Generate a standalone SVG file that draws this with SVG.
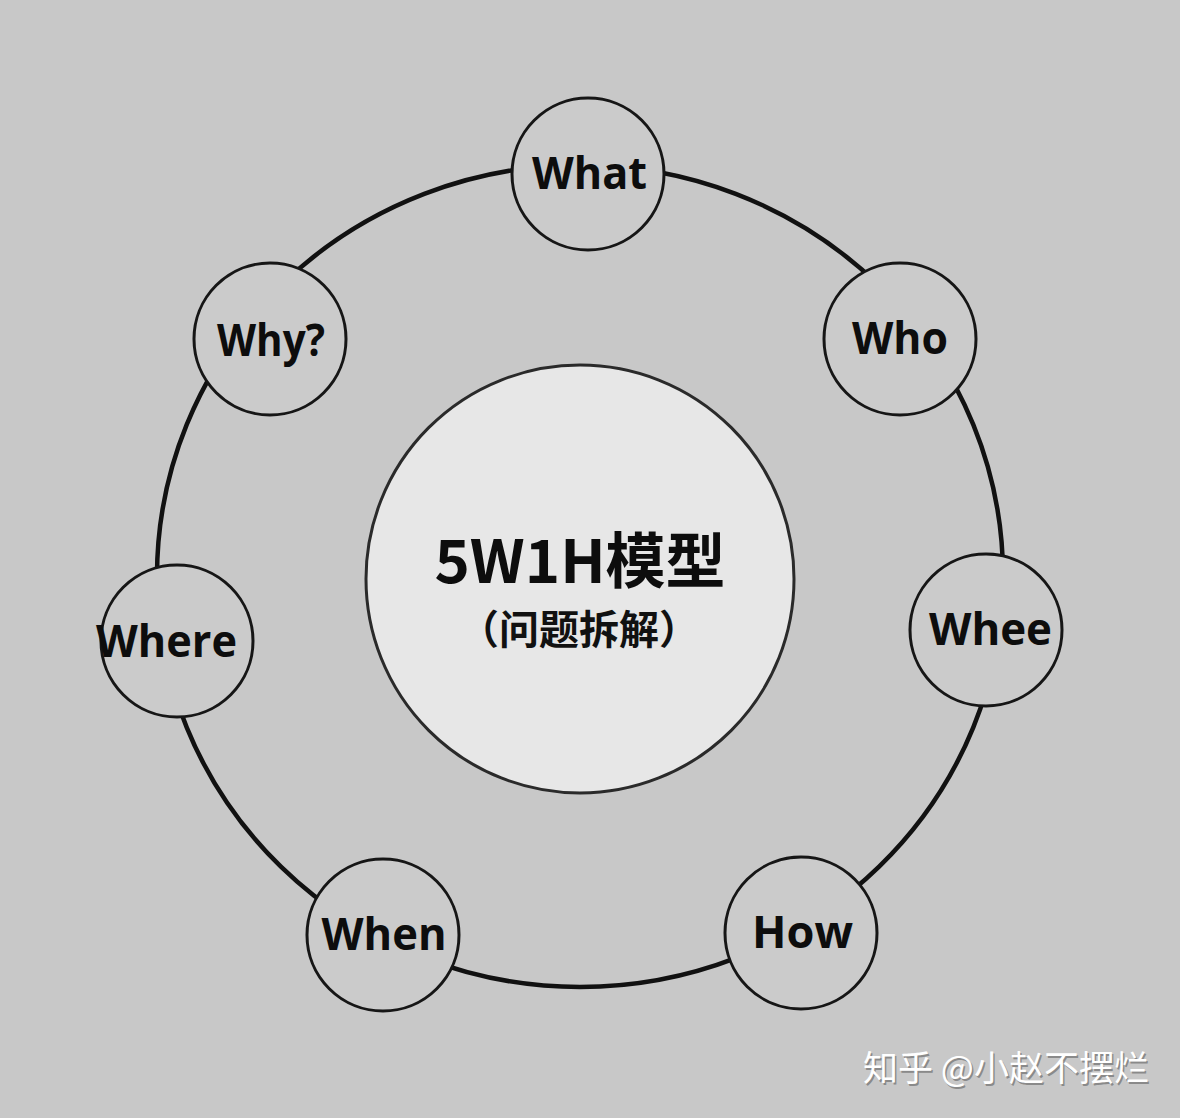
<svg xmlns="http://www.w3.org/2000/svg" width="1180" height="1118" viewBox="0 0 1180 1118">
  <style>
    .node { fill: #cbcbcb; stroke: #161616; stroke-width: 3; }
    .lbl { font-family: "Open Sans", "Noto Sans", "Liberation Sans", sans-serif; font-weight: 700; font-size: 45px; fill: #0d0d0d; text-anchor: middle; }
    .ring { fill: none; stroke: #111; stroke-width: 4.5; }
    .wm { font-family: "Noto Sans CJK SC", sans-serif; font-weight: 400; font-size: 35px; text-anchor: middle; }
  </style>
  <rect x="0" y="0" width="1180" height="1118" fill="#c8c8c8"/>
  <g id="connectors">
    <ellipse class="ring" cx="580" cy="576" rx="423" ry="411"/>
  </g>
  <g id="center">
    <circle cx="580" cy="579" r="214" fill="#e7e7e7" stroke="#2a2a2a" stroke-width="3"/>
    <text x="580" y="583" text-anchor="middle" font-family="'Noto Sans CJK SC', 'Noto Sans', sans-serif" font-weight="700" font-size="60" fill="#0d0d0d">5W1H模型</text>
    <text x="579" y="644" text-anchor="middle" font-family="'Noto Sans CJK SC', sans-serif" font-weight="600" font-size="40" fill="#111">（问题拆解）</text>
  </g>
  <g id="what">
    <circle class="node" cx="588" cy="174" r="76"/>
    <text class="lbl" x="589.5" y="189" textLength="115" lengthAdjust="spacingAndGlyphs">What</text>
  </g>
  <g id="who">
    <circle class="node" cx="900" cy="339" r="76"/>
    <text class="lbl" x="900" y="354" textLength="96" lengthAdjust="spacingAndGlyphs">Who</text>
  </g>
  <g id="whee">
    <circle class="node" cx="986" cy="630" r="76"/>
    <text class="lbl" x="990.5" y="645" textLength="123" lengthAdjust="spacingAndGlyphs">Whee</text>
  </g>
  <g id="how">
    <circle class="node" cx="801" cy="933" r="76"/>
    <text class="lbl" x="802.5" y="948" textLength="101" lengthAdjust="spacingAndGlyphs">How</text>
  </g>
  <g id="when">
    <circle class="node" cx="383" cy="935" r="76"/>
    <text class="lbl" x="384" y="950" textLength="125" lengthAdjust="spacingAndGlyphs">When</text>
  </g>
  <g id="where">
    <circle class="node" cx="177" cy="641" r="76"/>
    <text class="lbl" x="166.5" y="657" textLength="141" lengthAdjust="spacingAndGlyphs">Where</text>
  </g>
  <g id="why">
    <circle class="node" cx="270" cy="339" r="76"/>
    <text class="lbl" x="271" y="356" textLength="108" lengthAdjust="spacingAndGlyphs">Why?</text>
  </g>
  <g id="watermark">
    <text class="wm" x="1006" y="1081" fill="#8a8a8a" transform="translate(1.5,2)">知乎 @小赵不摆烂</text>
    <text class="wm" x="1006" y="1081" fill="#ffffff">知乎 @小赵不摆烂</text>
  </g>
</svg>
